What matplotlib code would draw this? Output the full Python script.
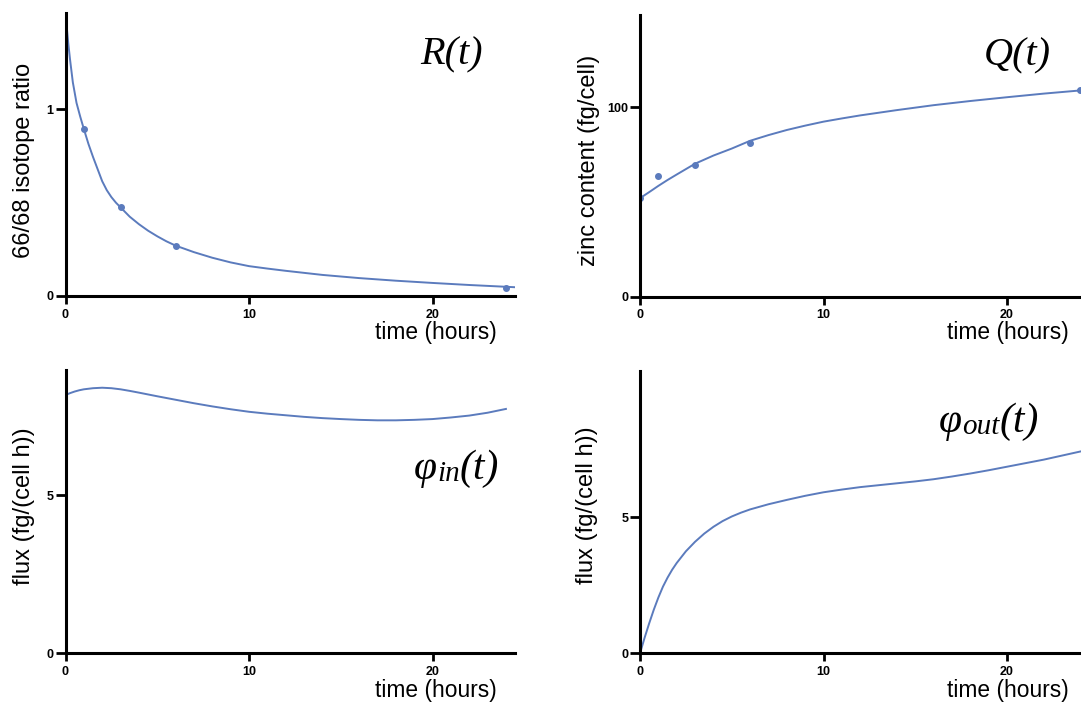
import matplotlib.pyplot as plt

plt.rcParams['font.family'] = 'Liberation Sans'

# ---- data ----
# R(t): 66/68 isotope ratio
t_R_obs = [1, 3, 6, 24]
R_obs = [0.895, 0.475, 0.27, 0.045]
t_R = [0, 0.05, 0.15, 0.25, 0.4, 0.6, 0.8, 1.0, 1.25, 1.5, 1.75, 2.0, 2.25, 2.5, 2.75, 3.0,
       3.5, 4.0, 4.5, 5.0, 5.5, 6.0, 7, 8, 9, 10, 11, 12, 14, 16, 18, 20, 22, 24.5]
R_fit = [1.50, 1.46, 1.355, 1.265, 1.145, 1.035, 0.962, 0.895, 0.815, 0.745, 0.68, 0.615,
         0.567, 0.53, 0.50, 0.475, 0.425, 0.385, 0.35, 0.32, 0.293, 0.27, 0.235, 0.205,
         0.18, 0.16, 0.147, 0.135, 0.113, 0.096, 0.082, 0.07, 0.059, 0.047]

# Q(t): zinc content
t_Q_obs = [0, 1, 3, 6, 24]
Q_obs = [52.0, 63.8, 69.5, 81.0, 109.0]
t_Q = [0, 0.5, 1, 1.5, 2, 3, 4, 5, 6, 7, 8, 9, 10, 11, 12, 14, 16, 18, 20, 22, 24.5]
Q_fit = [52.0, 55.2, 58.5, 61.6, 64.5, 70.2, 74.5, 78.2, 82.3, 85.3, 88.0, 90.3, 92.4, 94.1,
         95.7, 98.5, 101.1, 103.3, 105.3, 107.2, 109.3]

# phi_in(t)
t_in = [0, 0.25, 0.5, 0.75, 1, 1.5, 2, 2.5, 3, 3.5, 4, 5, 6, 7, 8, 9, 10, 11, 12, 13, 14,
        15, 16, 17, 18, 19, 20, 21, 22, 23, 24]
phi_in = [8.16, 8.22, 8.27, 8.31, 8.34, 8.375, 8.39, 8.375, 8.34, 8.29, 8.235, 8.12, 8.01,
          7.90, 7.80, 7.71, 7.63, 7.57, 7.52, 7.47, 7.43, 7.40, 7.375, 7.36, 7.36, 7.375,
          7.40, 7.45, 7.51, 7.60, 7.72]

# phi_out(t)
t_out = [0, 0.25, 0.5, 0.75, 1.0, 1.25, 1.5, 1.75, 2.0, 2.5, 3.0, 3.5, 4.0, 4.5, 5.0, 5.5,
         6.0, 7, 8, 9, 10, 11, 12, 13, 14, 15, 16, 17, 18, 19, 20, 21, 22, 23, 24, 24.5]
phi_out = [0, 0.57, 1.10, 1.60, 2.05, 2.45, 2.78, 3.07, 3.32, 3.75, 4.10, 4.40, 4.65, 4.86,
           5.03, 5.17, 5.29, 5.48, 5.64, 5.79, 5.92, 6.02, 6.11, 6.18, 6.25, 6.32, 6.40,
           6.50, 6.61, 6.73, 6.86, 6.99, 7.12, 7.27, 7.42, 7.49]

x_ticks = [0, 10, 20]
color = '#5b7bbd'

W, H = 1081, 704
fig = plt.figure(figsize=(W / 100, H / 100), dpi=100)
renderer = fig.canvas.get_renderer()


def box(x0, y_top, y_bot, w=449.6):
    return [x0 / W, 1 - y_bot / H, w / W, (y_bot - y_top) / H]


def style(ax, ylim, yticks):
    for s in ['top', 'right']:
        ax.spines[s].set_visible(False)
    for s in ['left', 'bottom']:
        ax.spines[s].set_linewidth(2.2)
    ax.set_xlim(0, 24.5)
    ax.set_ylim(*ylim)
    ax.set_xticks(x_ticks, [str(v) for v in x_ticks], fontweight='bold', fontsize=9)
    ax.set_yticks(yticks, [str(v) for v in yticks], fontweight='bold', fontsize=9)
    ax.tick_params(axis='y', direction='out', length=7, width=2, pad=1.5)
    ax.tick_params(axis='x', direction='out', length=6, width=2, pad=3)


def ftext(x, y, s, **kw):
    return fig.text(x / W, 1 - y / H, s, **kw)


def title(x, y, parts):
    # italic serif pieces laid out left to right on a common baseline
    for s, size, dy in parts:
        t = ftext(x, y + dy, s, fontsize=size, family='Liberation Serif',
                  style='italic', va='baseline', ha='left')
        x += t.get_window_extent(renderer).width


ax1 = fig.add_axes(box(65.5, 13.3, 296))
ax1.plot(t_R, R_fit, color=color, lw=1.4)
ax1.plot(t_R_obs, R_obs, 'o', color=color, ms=4)
style(ax1, (0, 1.515), [0, 1])

ax2 = fig.add_axes(box(640, 15, 296.7))
ax2.plot(t_Q, Q_fit, color=color, lw=1.4)
ax2.plot(t_Q_obs, Q_obs, 'o', color=color, ms=4)
style(ax2, (0, 148.7), [0, 100])

ax3 = fig.add_axes(box(65.5, 370, 653.3))
ax3.plot(t_in, phi_in, color=color, lw=1.4)
style(ax3, (0, 8.95), [0, 5])

ax4 = fig.add_axes(box(640, 370.7, 653.3))
ax4.plot(t_out, phi_out, color=color, lw=1.4)
style(ax4, (0, 10.39), [0, 5])

# axis labels
xl = dict(fontsize=16.4, ha='right', va='center')
yl = dict(fontsize=17, rotation=90, ha='center', va='center')
ftext(496.5, 333, 'time (hours)', **xl)
ftext(1069, 333, 'time (hours)', **xl)
ftext(496.5, 690, 'time (hours)', **xl)
ftext(1069, 690, 'time (hours)', **xl)
ftext(24, 160, '66/68 isotope ratio', **yl)
ftext(589, 160, 'zinc content (fg/cell)', **yl)
ftext(24, 506, 'flux (fg/(cell h))', **yl)
ftext(587, 505, 'flux (fg/(cell h))', **yl)

# panel titles
title(420, 64, [('R(t)', 29, 0)])
title(984, 65, [('Q(t)', 29, 0)])
title(414, 479, [('φ', 30, 0), ('in', 21, 2), ('(t)', 30, 0)])
title(939, 432, [('φ', 30, 0), ('out', 21, 2), ('(t)', 30, 0)])

fig.savefig('out.png', dpi=100)
